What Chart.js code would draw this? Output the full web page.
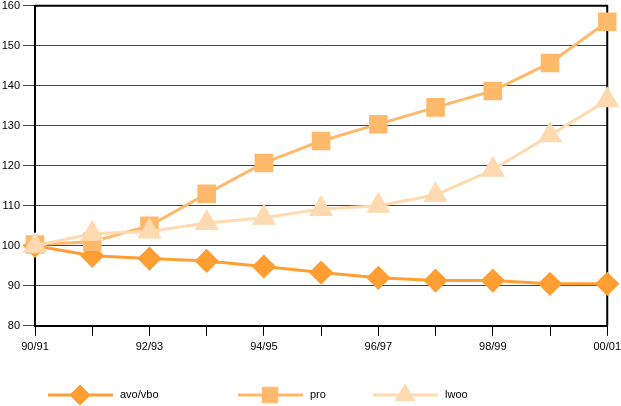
<!DOCTYPE html>
<html>
<head>
<meta charset="utf-8">
<script src="https://cdn.jsdelivr.net/npm/chart.js@4"></script>
<style>
  html, body { margin: 0; padding: 0; background: #fff; }
  #wrap { width: 621px; height: 406px; overflow: hidden; position: relative; }
  #inner { width: 626px; height: 406px; position: absolute; left: 0; top: 0; }
</style>
</head>
<body>
<div id="wrap"><div id="inner"><canvas id="trendChart"></canvas></div></div>
<script>
// Data
const categories = ['90/91', '91/92', '92/93', '93/94', '94/95', '95/96', '96/97', '97/98', '98/99', '99/00', '00/01'];
const avoVbo = [100, 97.5, 96.8, 96.2, 94.8, 93.3, 92.0, 91.3, 91.3, 90.5, 90.5];
const pro = [100.3, 101, 105, 113, 120.7, 126.2, 130.4, 134.6, 138.7, 145.7, 156];
const lwoo = [100, 103, 103.6, 105.7, 107, 109.2, 110, 112.7, 119, 127.6, 136.4];
const yTicks = [80, 90, 100, 110, 120, 130, 140, 150, 160];

const FONT = { family: '"Liberation Sans", Arial, sans-serif', size: 11 };

// Legend drawn under the plot: line segment + marker + label
const bottomLegend = {
    id: 'bottomLegend',
    afterDraw(chart) {
        const ctx = chart.ctx;
        const slots = [48, 238, 373];
        const y = 395;
        chart.data.datasets.forEach((ds, i) => {
            const x0 = slots[i];
            ctx.save();
            ctx.strokeStyle = ds.borderColor;
            ctx.lineWidth = 3;
            ctx.beginPath();
            ctx.moveTo(x0, y);
            ctx.lineTo(x0 + 65, y);
            ctx.stroke();
            ctx.fillStyle = ds.pointBackgroundColor;
            ctx.strokeStyle = ds.pointBackgroundColor;
            ctx.lineWidth = 1;
            Chart.helpers.drawPoint(ctx, { pointStyle: ds.pointStyle, radius: ds.pointRadius, borderWidth: 1, rotation: 0 }, x0 + 32, y);
            ctx.fillStyle = '#000';
            ctx.font = FONT.size + 'px ' + FONT.family;
            ctx.textBaseline = 'middle';
            ctx.fillText(ds.label, x0 + 72, y);
            ctx.restore();
        });
    }
};

// Black frame on top and right of the plot
const frame = {
    id: 'frame',
    beforeDatasetsDraw(chart) {
        const { ctx, chartArea: a } = chart;
        ctx.save();
        ctx.strokeStyle = '#000';
        ctx.lineWidth = 2;
        ctx.beginPath();
        ctx.moveTo(a.left, a.top);
        ctx.lineTo(a.right, a.top);
        ctx.lineTo(a.right, a.bottom);
        ctx.stroke();
        ctx.restore();
    }
};

function series(label, data, color, style, radius, order) {
    return {
        label, data, order,
        borderColor: color,
        backgroundColor: color,
        pointBackgroundColor: color,
        pointBorderColor: color,
        borderWidth: 3,
        pointStyle: style,
        pointRadius: radius,
        pointHoverRadius: radius,
        tension: 0,
        clip: false
    };
}

new Chart(document.getElementById('trendChart'), {
    type: 'line',
    data: {
        labels: categories,
        datasets: [
            series('avo/vbo', avoVbo, '#ff9f33', 'rectRot', 10, 2),
            series('pro', pro, '#ffb96a', 'rect', 11, 1),
            series('lwoo', lwoo, '#ffdab0', 'triangle', 11, 0)
        ]
    },
    options: {
        responsive: true,
        maintainAspectRatio: false,
        animation: false,
        layout: { autoPadding: false, padding: { top: 0, right: 0, bottom: 47, left: 0 } },
        plugins: { legend: { display: false }, tooltip: { enabled: false } },
        scales: {
            x: {
                offset: false,
                grid: { drawOnChartArea: false, drawTicks: true, tickLength: 10, color: '#000' },
                border: { color: '#000', width: 2 },
                ticks: {
                    autoSkip: false, maxRotation: 0, color: '#000', font: FONT, padding: 5,
                    callback: (v, i) => (i % 2 === 0 ? categories[i] : '')
                }
            },
            y: {
                min: 80, max: 160,
                afterBuildTicks: axis => { axis.ticks = yTicks.map(v => ({ value: v })); },
                afterFit: axis => { axis.width = 35; },
                grid: { color: '#444', tickLength: 12 },
                border: { color: '#000', width: 2 },
                ticks: { color: '#000', font: { ...FONT, lineHeight: 0.5 }, padding: 3 }
            }
        }
    },
    plugins: [frame, bottomLegend]
});
</script>
</body>
</html>
